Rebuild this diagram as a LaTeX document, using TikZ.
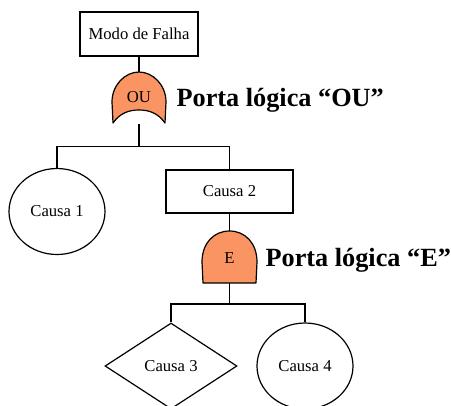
\documentclass[tikz,border=0pt]{standalone}
\usepackage{fontspec}
\setmainfont{Liberation Serif}
\usetikzlibrary{shapes.geometric}
\definecolor{gatefill}{RGB}{250,148,98}
\begin{document}
\begin{tikzpicture}[x=.75pt,y=-.75pt,line width=.9pt,font=\fontsize{12.5}{15}\selectfont,
  evento/.style={draw,rectangle,inner sep=0pt},
  causa/.style={draw,ellipse,inner sep=0pt,minimum width=72pt,minimum height=64.5pt},
  losango/.style={draw,diamond,inner sep=0pt,minimum width=99pt,minimum height=64.5pt},
  nota/.style={anchor=west,inner sep=0pt,font=\fontsize{19.7}{24}\selectfont\bfseries},
  porta/.style={draw,fill=gatefill,line join=round}]
\useasboundingbox (0,0) rectangle (451,405);\clip (0,0) rectangle (451,405);
\node[evento,minimum width=88.5pt,minimum height=33pt] (falha) at (139,34) {Modo de Falha};
% porta OU
\draw[porta] (113,123)--(112,102) .. controls (112,85) and (125,72) .. (139,72) .. controls (153,72) and (166,85) .. (166,102)--(165,123) .. controls (158,113) and (149,110) .. (139,110) .. controls (129,110) and (120,113) .. (113,123)--cycle;
\node (ou) at (139,97) {OU};
\coordinate (ouTop) at (139,72);\coordinate (ouBot) at (139,124);\coordinate (ouJun) at (139,146.5);
\node[nota] (notaOU) at (176,100) {Porta lógica “OU”};
\node[causa] (c1) at (57,211.5) {Causa 1};
\node[evento,minimum width=95.25pt,minimum height=32.25pt] (c2) at (229.5,191.5) {Causa 2};
\draw (falha)--(ouTop);\draw (ouBot)--(ouJun);
\draw (c1) |- (ouJun) -| (c2);
% porta E
\draw[porta] (203,283)--(202,262) .. controls (202,243) and (214,231) .. (229.5,231) .. controls (245,231) and (257,243) .. (257,262)--(256,283)--cycle;
\node (e) at (229.5,258) {E};
\coordinate (eTop) at (229.5,231);\coordinate (eBot) at (229.5,283);\coordinate (eJun) at (229.5,304);
\node[nota] (notaE) at (265,260) {Porta lógica “E”};
\node[losango] (c3) at (171,366) {Causa 3};
\node[causa] (c4) at (305,366) {Causa 4};
\draw (c2)--(eTop);\draw (eBot)--(eJun);
\draw (c3) |- (eJun) -| (c4);
\end{tikzpicture}
\end{document}
